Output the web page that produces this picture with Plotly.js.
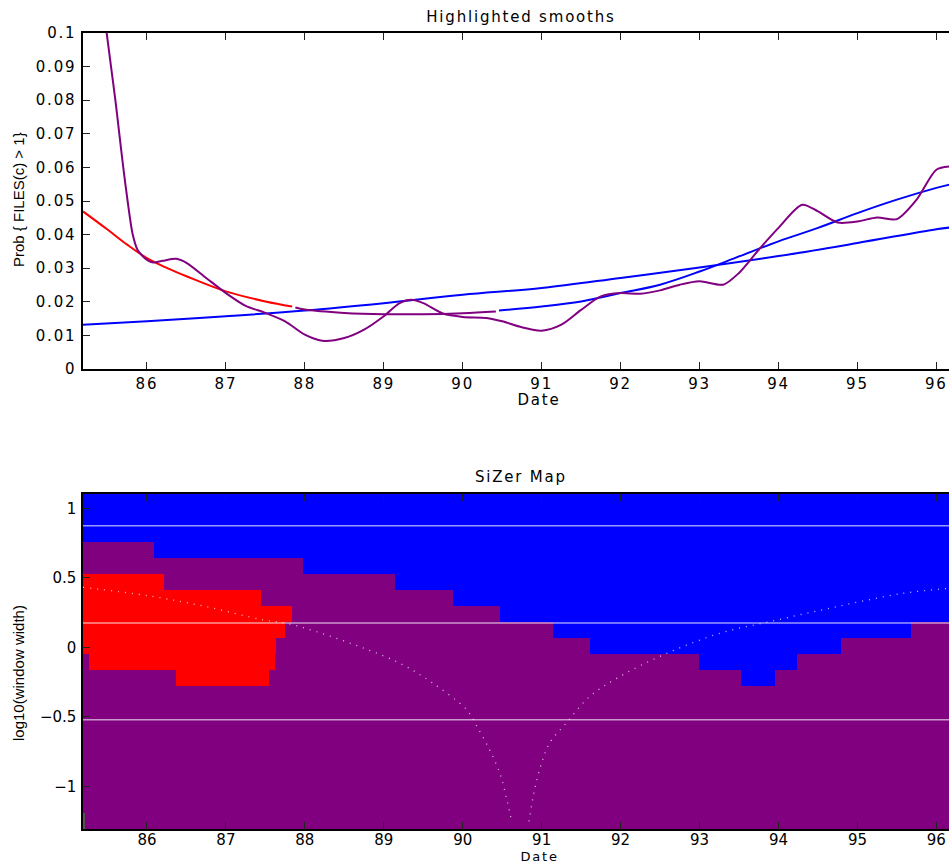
<!DOCTYPE html>
<html>
<head>
<meta charset="utf-8">
<script src="https://cdn.plot.ly/plotly-3.0.1.min.js"></script>
<style>
  html, body { margin: 0; padding: 0; background: #fff; }
  #chart { width: 949px; height: 864px; }
  #chart .bars path { shape-rendering: crispEdges !important; }
  #chart .xtick text, #chart .ytick text, #chart .g-gtitle text { letter-spacing: 1.8px; }
  #chart .annotation[data-index="0"] text,
  #chart .annotation[data-index="1"] text,
  #chart .annotation[data-index="2"] text { letter-spacing: 1.8px; }
</style>
</head>
<body>
<div id="chart"></div>
<script>
// ---------- Top panel: highlighted smooths ----------
const xTicks = [86, 87, 88, 89, 90, 91, 92, 93, 94, 95, 96];

// large bandwidth smooth (blue, nearly straight)
const largeX = [85.19, 86, 87, 88, 89, 90, 91, 92, 93, 94, 95, 96, 96.17];
const largeY = [0.0132, 0.0142, 0.0157, 0.0174, 0.0196, 0.0221, 0.0241, 0.0271, 0.0302, 0.0336, 0.0375, 0.0416, 0.0421];

// medium bandwidth smooth, coloured by SiZer class
const midRedX = [85.19, 85.5, 85.75, 86, 86.25, 86.5, 87, 87.5, 87.84];
const midRedY = [0.0469, 0.0415, 0.0370, 0.0330, 0.0301, 0.0276, 0.0231, 0.0201, 0.0186];
const midPurpleX = [87.88, 88, 88.5, 89, 89.5, 90, 90.42];
const midPurpleY = [0.0183, 0.0177, 0.0167, 0.0163, 0.0163, 0.0166, 0.0171];
const midBlueX = [90.46, 91, 91.5, 92, 92.5, 93, 93.5, 94, 94.5, 95, 95.5, 96, 96.17];
const midBlueY = [0.0174, 0.0186, 0.0201, 0.0226, 0.0251, 0.0290, 0.0335, 0.0380, 0.0420, 0.0464, 0.0504, 0.0539, 0.0549];

// small bandwidth smooth (purple, wiggly)
const smallX = [85.43, 85.49, 85.545, 85.60, 85.65, 85.70, 85.755, 85.82, 85.88, 85.95, 86.02, 86.08, 86.2, 86.37, 86.5, 86.75, 87.0, 87.25, 87.5, 87.75, 88.0, 88.22, 88.5, 88.75, 89.0, 89.2, 89.35, 89.5, 89.75, 90.0, 90.3, 90.5, 90.75, 91.0, 91.25, 91.5, 91.75, 92.0, 92.25, 92.5, 92.75, 93.0, 93.3, 93.5, 93.75, 94.0, 94.3, 94.5, 94.75, 95.0, 95.25, 95.5, 95.75, 96.0, 96.17];
const smallY = [0.110, 0.100, 0.090, 0.080, 0.070, 0.060, 0.050, 0.040, 0.0355, 0.0335, 0.0322, 0.0317, 0.0322, 0.0328, 0.0316, 0.0271, 0.0226, 0.0188, 0.0167, 0.0142, 0.0102, 0.0084, 0.0092, 0.0117, 0.0157, 0.0196, 0.0206, 0.0196, 0.0165, 0.0155, 0.0152, 0.0142, 0.0124, 0.0114, 0.0132, 0.0176, 0.0216, 0.0226, 0.0224, 0.0234, 0.0251, 0.0261, 0.0251, 0.0286, 0.0355, 0.0420, 0.0489, 0.0469, 0.0436, 0.0439, 0.0451, 0.0446, 0.0504, 0.0593, 0.0603];

// ---------- Bottom panel: SiZer map ----------
const xMin = 85.18;
const xMax = 96.17;
const rowHeight = 0.1147;
const rowCenters = [-1.249, -1.134, -1.019, -0.904, -0.790, -0.675, -0.560, -0.446, -0.331, -0.216, -0.101, 0.013, 0.128, 0.243, 0.357, 0.472, 0.587, 0.701, 0.816, 0.931, 1.046];
// interior break points of each row (left to right) and the class of each run
const rowBreaks = [
  [85.22],
  [85.195],
  [], [], [], [], [], [], [],
  [86.37, 87.54, 93.52, 93.95],
  [85.27, 87.62, 92.99, 94.23],
  [87.64, 91.61, 94.79],
  [87.755, 91.14, 95.68],
  [87.84, 90.47],
  [87.45, 89.88],
  [86.21, 89.14],
  [87.98],
  [86.095],
  [], [], []
];
const rowClasses = [
  ['gray', 'flat'],
  ['gray', 'flat'],
  ['flat'], ['flat'], ['flat'], ['flat'], ['flat'], ['flat'], ['flat'],
  ['flat', 'down', 'flat', 'up', 'flat'],
  ['flat', 'down', 'flat', 'up', 'flat'],
  ['down', 'flat', 'up', 'flat'],
  ['down', 'flat', 'up', 'flat'],
  ['down', 'flat', 'up'],
  ['down', 'flat', 'up'],
  ['down', 'flat', 'up'],
  ['flat', 'up'],
  ['flat', 'up'],
  ['up'], ['up'], ['up']
];
const classColors = { up: '#0000ff', down: '#ff0000', flat: '#800080', gray: '#555555' };

// highlighted bandwidths (white lines)
const highlightLevels = [0.875, 0.176, -0.521];

// dotted curves of effective window width
const leftDotX = [85.19, 86.03, 86.75, 87.47, 87.76, 88.14, 88.69, 89.20, 89.62, 90.05, 90.17, 90.34, 90.47, 90.55, 90.62];
const leftDotY = [0.432, 0.370, 0.293, 0.198, 0.174, 0.114, 0.006, -0.113, -0.257, -0.449, -0.557, -0.737, -0.904, -1.072, -1.251];
const rightDotX = [90.84, 90.91, 91.0, 91.10, 91.31, 91.61, 91.99, 92.54, 93.26, 93.89, 94.74, 95.58, 96.17];
const rightDotY = [-1.251, -1.024, -0.832, -0.688, -0.545, -0.353, -0.210, -0.054, 0.102, 0.185, 0.293, 0.389, 0.425];

// ---------- build traces ----------
const traces = [];
const lw = 2;
traces.push({x: largeX, y: largeY, type: 'scatter', mode: 'lines', line: {color: '#0000ff', width: lw, shape: 'spline'}, xaxis: 'x', yaxis: 'y', hoverinfo: 'skip'});
traces.push({x: midRedX, y: midRedY, type: 'scatter', mode: 'lines', line: {color: '#ff0000', width: lw, shape: 'spline'}, xaxis: 'x', yaxis: 'y', hoverinfo: 'skip'});
traces.push({x: midPurpleX, y: midPurpleY, type: 'scatter', mode: 'lines', line: {color: '#800080', width: lw, shape: 'spline'}, xaxis: 'x', yaxis: 'y', hoverinfo: 'skip'});
traces.push({x: midBlueX, y: midBlueY, type: 'scatter', mode: 'lines', line: {color: '#0000ff', width: lw, shape: 'spline'}, xaxis: 'x', yaxis: 'y', hoverinfo: 'skip'});
traces.push({x: smallX, y: smallY, type: 'scatter', mode: 'lines', line: {color: '#800080', width: lw, shape: 'spline', smoothing: 0.8}, xaxis: 'x', yaxis: 'y', hoverinfo: 'skip'});

// SiZer map as horizontal bars
const barY = [], barBase = [], barLen = [], barColor = [];
rowCenters.forEach((yc, i) => {
  const edges = [xMin].concat(rowBreaks[i], [xMax]);
  rowClasses[i].forEach((cls, j) => {
    barY.push(yc);
    barBase.push(edges[j]);
    barLen.push(edges[j + 1] - edges[j]);
    barColor.push(classColors[cls]);
  });
});
traces.push({
  type: 'bar', orientation: 'h', y: barY, x: barLen, base: barBase,
  width: rowHeight * 1.04, marker: {color: barColor, line: {width: 0}},
  xaxis: 'x2', yaxis: 'y2', hoverinfo: 'skip'
});
highlightLevels.forEach(lv => {
  traces.push({x: [xMin, xMax], y: [lv, lv], type: 'scatter', mode: 'lines',
    line: {color: 'rgba(255,255,255,0.6)', width: 1.5}, xaxis: 'x2', yaxis: 'y2', hoverinfo: 'skip'});
});
[[leftDotX, leftDotY], [rightDotX, rightDotY]].forEach(([dx, dy]) => {
  traces.push({x: dx, y: dy, type: 'scatter', mode: 'lines',
    line: {color: 'rgba(255,255,255,0.75)', width: 1.3, dash: '1px,6px', shape: 'spline'},
    xaxis: 'x2', yaxis: 'y2', hoverinfo: 'skip'});
});

const W = 949, H = 864, L = 83;
const tickFont = {family: 'DejaVu Sans, sans-serif', size: 15, color: '#000'};
const axisCommon = {
  ticks: 'inside', ticklen: 7, tickwidth: 1, tickcolor: '#222',
  showline: true, linecolor: '#000', linewidth: 1.6,
  showgrid: false, zeroline: false, tickfont: tickFont, fixedrange: true
};
const px2x = p => (p - L) / (W - L);
const py2y = p => 1 - p / H;

const layout = {
  width: W, height: H,
  margin: {l: L, r: 0, t: 0, b: 0},
  paper_bgcolor: '#fff', plot_bgcolor: '#fff',
  showlegend: false,
  bargap: 0,
  title: {text: 'Highlighted smooths', font: {family: 'DejaVu Sans, sans-serif', size: 15, color: '#000'},
          xref: 'paper', x: px2x(521), xanchor: 'center', yref: 'container', y: py2y(17), yanchor: 'middle'},
  xaxis: Object.assign({}, axisCommon, {domain: [0, 1], range: [85.19, 96.16], tickvals: xTicks, mirror: 'ticks', anchor: 'y'}),
  yaxis: Object.assign({}, axisCommon, {domain: [py2y(369), py2y(33)], range: [0, 0.1], dtick: 0.01, tick0: 0, anchor: 'x', ticklabelstandoff: 2}),
  xaxis2: Object.assign({}, axisCommon, {domain: [0, 1], range: [85.19, 96.16], tickvals: xTicks, mirror: 'ticks', anchor: 'y2', ticklabelstandoff: -4}),
  yaxis2: Object.assign({}, axisCommon, {domain: [py2y(829), py2y(494)], range: [-1.306, 1.103], tickvals: [-1, -0.5, 0, 0.5, 1], anchor: 'x2', ticklabelstandoff: 2}),
  annotations: [
    {text: 'SiZer Map', xref: 'paper', yref: 'paper', x: px2x(521), y: py2y(477), xanchor: 'center', yanchor: 'middle', showarrow: false,
     font: {family: 'DejaVu Sans, sans-serif', size: 15, color: '#000'}},
    {text: 'Date', xref: 'paper', yref: 'paper', x: px2x(539), y: py2y(400), xanchor: 'center', yanchor: 'middle', showarrow: false,
     font: {family: 'DejaVu Sans, sans-serif', size: 15, color: '#000'}},
    {text: 'Date', xref: 'paper', yref: 'paper', x: px2x(539), y: py2y(856), xanchor: 'center', yanchor: 'middle', showarrow: false,
     font: {family: 'DejaVu Sans, sans-serif', size: 13, color: '#000'}},
    {text: 'Prob { FILES(c) > 1}', xref: 'paper', yref: 'paper', x: px2x(18), y: py2y(200), xanchor: 'center', yanchor: 'middle', textangle: -90, showarrow: false,
     font: {family: 'Liberation Sans, Arial, sans-serif', size: 15, color: '#000'}},
    {text: 'log10(window width)', xref: 'paper', yref: 'paper', x: px2x(18), y: py2y(673), xanchor: 'center', yanchor: 'middle', textangle: -90, showarrow: false,
     font: {family: 'Liberation Sans, Arial, sans-serif', size: 15, color: '#000'}}
  ]
};

Plotly.newPlot('chart', traces, layout, {displayModeBar: false, staticPlot: true});
</script>
</body>
</html>
